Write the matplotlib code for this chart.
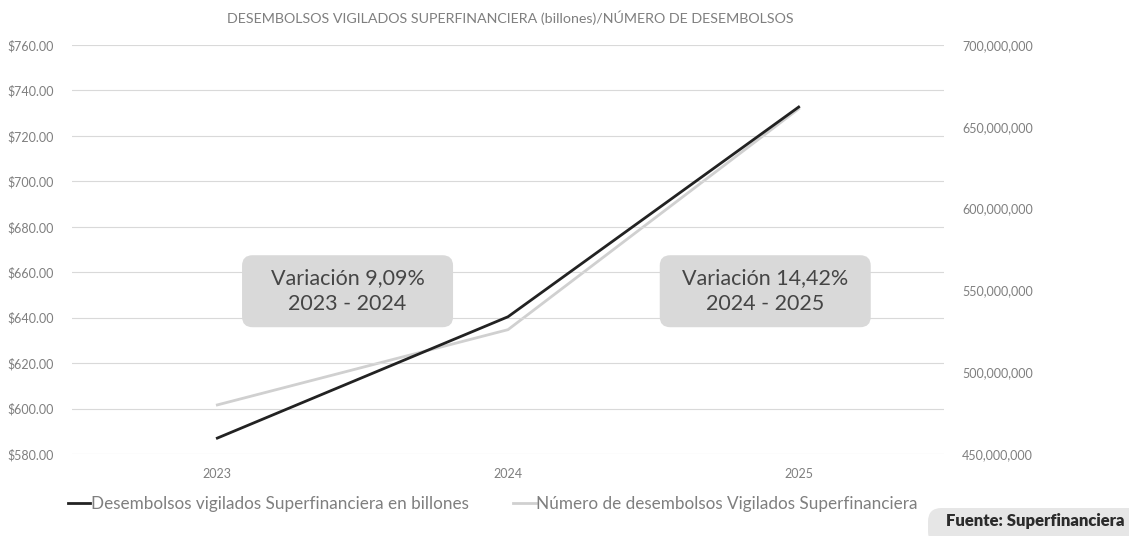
import matplotlib
matplotlib.use("Agg")
import matplotlib.pyplot as plt
from matplotlib.patches import FancyBboxPatch
from matplotlib.ticker import FuncFormatter, MultipleLocator

# data
years = ['2023', '2024', '2025']
desembolsos_billones = [587.0, 640.4, 732.7]          # left axis
num_desembolsos = [480.0e6, 526.0e6, 661.0e6]         # right axis
var_labels = ['Variación 9,09%\n2023 - 2024', 'Variación 14,42%\n2024 - 2025']

title = 'DESEMBOLSOS VIGILADOS SUPERFINANCIERA (billones)/NÚMERO DE DESEMBOLSOS'
name_left = 'Desembolsos vigilados Superfinanciera en billones'
name_right = 'Número de desembolsos Vigilados Superfinanciera'
fuente = 'Fuente: Superfinanciera'

plt.rcParams['font.family'] = ['Lato', 'DejaVu Sans']

W, H = 1129, 536
fig = plt.figure(figsize=(W / 100, H / 100), dpi=100)
fig.patch.set_facecolor('white')

# axes box in pixels: x 72..944, y 45..454
ax = fig.add_axes([72 / W, 1 - 454 / H, 872 / W, 409 / H])
ax2 = ax.twinx()

x = list(range(len(years)))
grid_c = '#d9d9d9'
txt_c = '#7f7f7f'

ax.set_xlim(-0.5, 2.5)
ax.set_ylim(580, 760)
ax.yaxis.set_major_locator(MultipleLocator(20))
ax.yaxis.set_major_formatter(FuncFormatter(lambda v, p: '${:.2f}'.format(v)))
ax.set_xticks(x)
ax.set_xticklabels(years)
ax.grid(axis='y', color=grid_c, linewidth=0.8)
ax.set_axisbelow(True)

ax2.set_ylim(450e6, 700e6)
ax2.yaxis.set_major_locator(MultipleLocator(50e6))
ax2.yaxis.set_major_formatter(FuncFormatter(lambda v, p: '{:,.0f}'.format(v)))

for a in (ax, ax2):
    for s in a.spines.values():
        s.set_visible(False)
    a.tick_params(length=0, labelsize=9, labelcolor=txt_c)
ax.tick_params(axis='y', pad=13)
ax2.tick_params(axis='y', pad=13)
ax.tick_params(axis='x', pad=10)

l2, = ax2.plot(x, num_desembolsos, color='#d0d0d0', linewidth=2, label=name_right)
l1, = ax.plot(x, desembolsos_billones, color='#222222', linewidth=2, label=name_left)

# black line above the grey one
ax.set_zorder(ax2.get_zorder() + 1)
ax.patch.set_visible(False)

# variation boxes
bw, bh = 211 / 872, 72 / 409
for cx, lab in zip([0.316, 0.795], var_labels):
    box = FancyBboxPatch((cx - bw / 2, 0.398 - bh / 2), bw, bh,
                         boxstyle='round,pad=0,rounding_size=0.012',
                         mutation_aspect=872 / 409,
                         transform=ax.transAxes, fc='#d9d9d9', ec='none', zorder=3)
    ax.add_patch(box)
    ax.text(cx, 0.398, lab, transform=ax.transAxes, ha='center', va='center',
            fontsize=15.5, color='#454545', linespacing=1.35, zorder=4)

fig.text(510 / W, 1 - 18 / H, title, ha='center', va='center', fontsize=10.3, color=txt_c)

leg = fig.legend(handles=[l1, l2], loc='center left', bbox_to_anchor=(68 / W, 1 - 504 / H),
                 ncol=2, frameon=False, fontsize=12.3, handlelength=1.3, handletextpad=0.05,
                 columnspacing=2.6, borderpad=0, borderaxespad=0)
for t in leg.get_texts():
    t.set_color(txt_c)

# source tag bottom right
tag = FancyBboxPatch((928 / W, 1 - 545 / H), 225 / W, 37 / H,
                     boxstyle='round,pad=0,rounding_size=0.012',
                     mutation_aspect=W / H, transform=fig.transFigure,
                     fc='#e6e6e6', ec='none')
fig.patches.append(tag)
fig.text(1124 / W, 1 - 521 / H, fuente, ha='right', va='center', fontsize=12,
         fontweight='heavy', color='#2b2b2b')

fig.savefig('out.png', dpi=100)
